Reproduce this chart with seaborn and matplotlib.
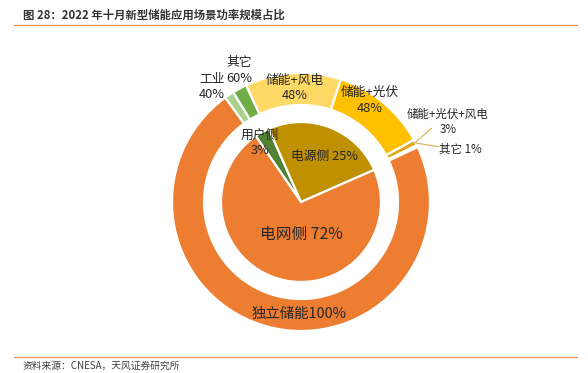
import matplotlib
matplotlib.use("Agg")
import matplotlib.pyplot as plt
import seaborn as sns

# ---- data ----
inner_labels = ["用户侧", "电源侧", "电网侧"]
inner_values = [3, 25, 72]
inner_colors = ["#548235", "#BF9000", "#ED7D31"]

outer_labels = ["工业", "其它", "储能+风电", "储能+光伏", "储能+光伏+风电", "其它", "独立储能"]
outer_shares = [40, 60, 48, 48, 3, 1, 100]          # % within parent
outer_parent = [0, 0, 1, 1, 1, 1, 2]                # index into inner
outer_colors = ["#A9D18E", "#70AD47", "#FFD966", "#FFC000", "#D9A81E", "#BF9000", "#ED7D31"]

outer_values = [inner_values[p] * s / 100 for p, s in zip(outer_parent, outer_shares)]

title = "图 28：2022 年十月新型储能应用场景功率规模占比"
source = "资料来源：CNESA，天风证券研究所"

sns.set_theme(style="white")
plt.rcParams["font.family"] = ["Noto Sans CJK SC", "DejaVu Sans"]

W, H = 588, 373
fig = plt.figure(figsize=(W / 100, H / 100), dpi=100)
fig.patch.set_facecolor("white")

cx, cy, R = 301, 202, 129
ax = fig.add_axes([(cx - R) / W, (H - cy - R) / H, 2 * R / W, 2 * R / H])

# outer ring
ax.pie(outer_values, radius=1.0, colors=outer_colors, startangle=126, counterclock=False,
       wedgeprops=dict(width=0.248, edgecolor="white", linewidth=1.6))
# inner pie
ax.pie(inner_values, radius=0.62, colors=inner_colors, startangle=124.5, counterclock=False,
       wedgeprops=dict(edgecolor="white", linewidth=1.6))

ax.set_xlim(-1, 1)
ax.set_ylim(-1, 1)
ax.set_aspect("equal")
ax.axis("off")

tc = "#262626"
def lab(x, y, s, size=9.2, ha="center"):
    ax.text(x, y, s, ha=ha, va="center", fontsize=size, color=tc, linespacing=1.25)

lab(-0.48, 1.02, f"{outer_labels[1]}\n{outer_shares[1]}%")
lab(-0.692, 0.893, f"{outer_labels[0]}\n{outer_shares[0]}%")
lab(-0.047, 0.884, f"{outer_labels[2]}\n{outer_shares[2]}%")
lab(0.53, 0.787, f"{outer_labels[3]}\n{outer_shares[3]}%")
lab(1.14, 0.62, f"{outer_labels[4]}\n{outer_shares[4]}%", size=8.3)
lab(1.233, 0.409, f"{outer_labels[5]} {outer_shares[5]}%", size=8.3)
lab(-0.318, 0.457, f"{inner_labels[0]}\n{inner_values[0]}%")
lab(0.186, 0.351, f"{inner_labels[1]} {inner_values[1]}%")
lab(0.005, -0.248, f"{inner_labels[2]} {inner_values[2]}%", size=11.3)
lab(-0.013, -0.871, f"{outer_labels[6]}{outer_shares[6]}%", size=10.4)

# leader lines
ax.plot([0.884, 1.013], [0.46, 0.572], color="#D4B24C", lw=0.8, clip_on=False)
ax.plot([0.891, 1.064], [0.457, 0.429], color="#D4B24C", lw=0.8, clip_on=False)

# title and source
fig.text(23 / W, 1 - 15 / H, title, ha="left", va="center", fontsize=8.2,
         fontweight="bold", color="#333333")
fig.add_artist(plt.Line2D([14 / W, 577 / W], [1 - 25 / H, 1 - 25 / H],
                          color="#E39A5F", lw=1.0, transform=fig.transFigure))
fig.add_artist(plt.Line2D([14 / W, 577 / W], [1 - 357 / H, 1 - 357 / H],
                          color="#E39A5F", lw=1.0, transform=fig.transFigure))
fig.text(23 / W, 1 - 366 / H, source, ha="left", va="center", fontsize=7,
         color="#404040")

fig.savefig("out.png", dpi=100, facecolor="white")
